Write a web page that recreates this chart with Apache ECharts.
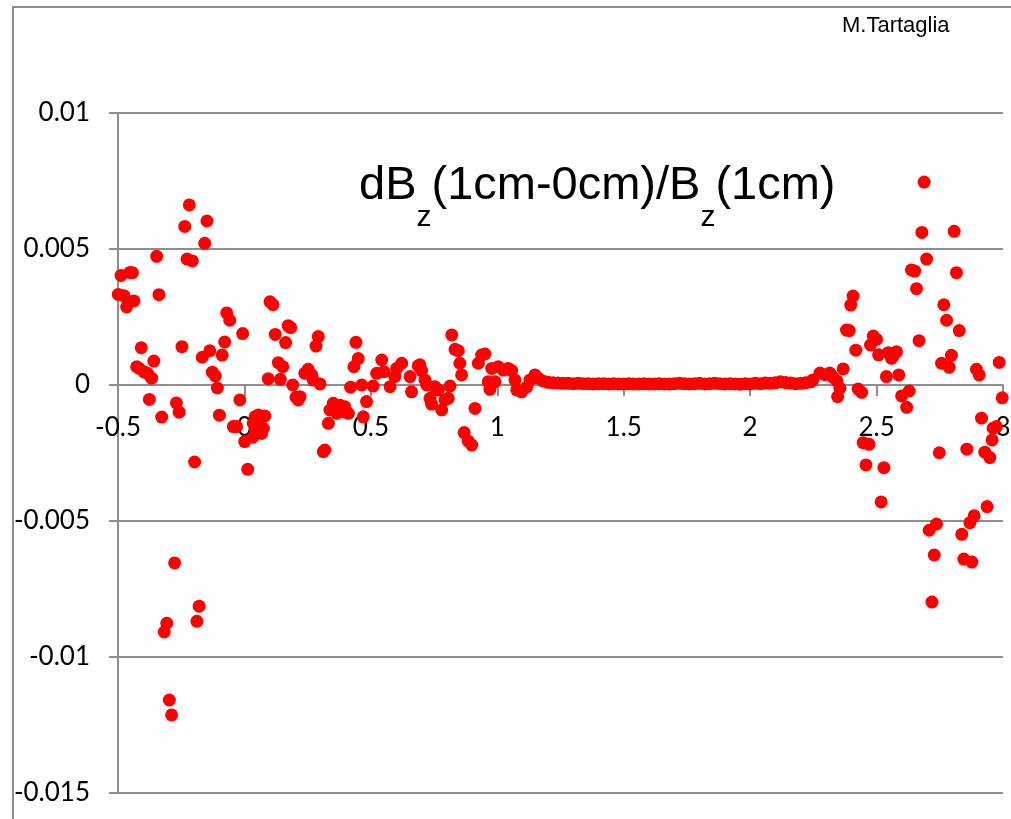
<!DOCTYPE html>
<html>
<head>
<meta charset="utf-8">
<script src="https://cdn.jsdelivr.net/npm/echarts@6/dist/echarts.min.js"></script>
<style>
  html, body { margin: 0; padding: 0; background: #fff; }
  #chart { width: 1011px; height: 819px; }
</style>
</head>
<body>
<div id="chart"></div>
<script>
// measured points, [x, dBz/Bz]
const leftPts = [
    [-0.499, 0.00333], [-0.488, 0.00403], [-0.476, 0.00328], [-0.466, 0.00287], [-0.453, 0.00414],
    [-0.443, 0.00413], [-0.437, 0.00309], [-0.426, 0.00067], [-0.416, 0.00061], [-0.408, 0.00137],
    [-0.397, 0.00048], [-0.383, 0.00043], [-0.376, -0.00053], [-0.367, 0.00025], [-0.358, 0.00088],
    [-0.347, 0.00473], [-0.338, 0.00332], [-0.327, -0.00118], [-0.317, -0.00908], [-0.307, -0.00876],
    [-0.297, -0.01158], [-0.288, -0.01213], [-0.276, -0.00654], [-0.269, -0.00066], [-0.258, -0.001],
    [-0.247, 0.00141], [-0.236, 0.00583], [-0.227, 0.00463], [-0.218, 0.00662], [-0.206, 0.00456],
    [-0.197, -0.00283], [-0.188, -0.00869], [-0.179, -0.00813], [-0.167, 0.00102], [-0.157, 0.00521],
    [-0.148, 0.00603], [-0.137, 0.00126], [-0.127, 0.00047], [-0.115, 0.00033], [-0.107, -0.00011],
    [-0.099, -0.00111], [-0.088, 0.0011], [-0.078, 0.00158], [-0.070, 0.00265], [-0.058, 0.00238],
    [-0.044, -0.00153], [-0.031, -0.00153], [-0.018, -0.00055], [-0.007, 0.00189], [0.001, -0.00208],
    [0.013, -0.0031], [0.033, -0.00192], [0.035, -0.00141], [0.042, -0.00117], [0.042, -0.00165],
    [0.055, -0.0011], [0.061, -0.00153], [0.068, -0.00178], [0.075, -0.00159], [0.081, -0.00114],
    [0.094, 0.00023], [0.101, 0.00306], [0.113, 0.00295], [0.122, 0.00186], [0.134, 0.00082],
    [0.142, 0.00021], [0.152, 0.00067], [0.163, 0.00156], [0.173, 0.00218], [0.183, 0.00211],
    [0.191, 0], [0.204, -0.00045]
];

const midPts = [
    [0.213, -0.00055], [0.220, -0.00043], [0.239, 0.00043], [0.252, 0.00058], [0.266, 0.00037],
    [0.272, 0.00018], [0.283, 0.00143], [0.292, 0.00178], [0.299, 0.00004], [0.312, -0.00245],
    [0.318, -0.00239], [0.332, -0.00141], [0.338, -0.00092], [0.351, -0.00067], [0.365, -0.00104],
    [0.378, -0.00074], [0.391, -0.00098], [0.397, -0.0008], [0.411, -0.00104], [0.420, -0.00008],
    [0.433, 0.00067], [0.441, 0.00157], [0.450, 0.00097], [0.464, 0], [0.470, -0.00117],
    [0.483, -0.00061], [0.509, -0.00004], [0.523, 0.00043], [0.543, 0.00092], [0.552, 0.00049],
    [0.576, -0.00006], [0.595, 0.00031], [0.602, 0.00061], [0.622, 0.0008], [0.655, 0.00031],
    [0.661, -0.00025], [0.687, 0.0007], [0.694, 0.00074], [0.701, 0.00053], [0.714, 0.00018],
    [0.721, 0], [0.734, -0.00049], [0.740, -0.0007], [0.753, -0.00006], [0.767, -0.00018],
    [0.780, -0.00092], [0.793, -0.00055], [0.806, -0.00049], [0.813, -0.00004], [0.820, 0.00184],
    [0.833, 0.00131], [0.846, 0.00126], [0.852, 0.0008], [0.859, 0.00037], [0.869, -0.00175],
    [0.885, -0.00206], [0.899, -0.00221], [0.912, -0.00086], [0.925, 0.0008], [0.938, 0.0011],
    [0.951, 0.00114], [0.964, 0.00012], [0.971, -0.00016], [0.978, 0.00061], [0.991, 0.00012],
    [1.004, 0.00067], [1.024, 0.00055], [1.043, 0.00061], [1.057, 0.00053], [1.070, 0.00018],
    [1.077, -0.00018], [1.096, -0.00025], [1.116, -0.00008], [1.129, 0.00018], [1.149, 0.00037],
    [1.162, 0.00025]
];

// the quiet stretch between ~1.2 and ~2.25
const flatX = [
    1.18, 1.20, 1.22, 1.24, 1.26, 1.28, 1.30, 1.32, 1.34, 1.36, 1.38, 1.40, 1.42, 1.44, 1.46,
    1.48, 1.50, 1.52, 1.54, 1.56, 1.58, 1.60, 1.62, 1.64, 1.66, 1.68, 1.70, 1.72, 1.74, 1.76,
    1.78, 1.80, 1.82, 1.84, 1.86, 1.88, 1.90, 1.92, 1.94, 1.96, 1.98, 2.00, 2.02, 2.04, 2.06,
    2.08, 2.10, 2.12, 2.14, 2.16, 2.18, 2.20, 2.22, 2.24
];
const flatY = [
    0.00015, 0.0001, 0.00008, 0.00007, 0.00006, 0.00006, 0.00005, 0.00006, 0.00005, 0.00005, 0.00004, 0.00005, 0.00005, 0.00004, 0.00005,
    0.00004, 0.00004, 0.00005, 0.00004, 0.00004, 0.00005, 0.00004, 0.00004, 0.00005, 0.00004, 0.00004, 0.00005, 0.00006, 0.00005, 0.00004,
    0.00005, 0.00006, 0.00004, 0.00005, 0.00006, 0.00005, 0.00004, 0.00005, 0.00004, 0.00003, 0.00005, 0.00004, 0.00006, 0.00005, 0.00007,
    0.00006, 0.00008, 0.00012, 0.00009, 0.00007, 0.00005, 0.00006, 0.00008, 0.00012
];

const rightPts = [
    [2.248, 0.00018], [2.276, 0.00044], [2.296, 0.00038], [2.315, 0.00044], [2.327, 0.00029],
    [2.343, 0.00015], [2.346, -0.00043], [2.355, -0.00012], [2.368, 0.00059], [2.381, 0.00202],
    [2.392, 0.002], [2.398, 0.00294], [2.407, 0.00327], [2.418, 0.00128], [2.427, -0.00015],
    [2.441, -0.00027], [2.447, -0.00212], [2.458, -0.00294], [2.470, -0.00218], [2.476, 0.00147],
    [2.487, 0.0018], [2.500, 0.00168], [2.508, 0.00111], [2.518, -0.0043], [2.529, -0.00304],
    [2.539, 0.00031], [2.546, 0.00119], [2.559, 0.00098], [2.566, 0.00107], [2.579, 0.00122],
    [2.588, 0.00037], [2.599, -0.0004], [2.619, -0.00082], [2.629, -0.00022], [2.638, 0.00423],
    [2.651, 0.00419], [2.658, 0.00354], [2.668, 0.00163], [2.679, 0.00561], [2.688, 0.00746],
    [2.698, 0.00463], [2.708, -0.00534], [2.719, -0.00798], [2.728, -0.00625], [2.737, -0.00511],
    [2.748, -0.00249], [2.757, 0.0008], [2.766, 0.00295], [2.777, 0.00238], [2.787, 0.00065],
    [2.796, 0.00109], [2.807, 0.00565], [2.816, 0.00413], [2.827, 0.002], [2.837, -0.00549],
    [2.845, -0.0064], [2.857, -0.00236], [2.869, -0.00506], [2.877, -0.00651], [2.886, -0.00481],
    [2.895, 0.00058], [2.906, 0.00037], [2.915, -0.00122], [2.928, -0.00247], [2.937, -0.00447],
    [2.948, -0.00267], [2.957, -0.00202], [2.961, -0.00159], [2.974, -0.00153], [2.985, 0.00083],
    [2.997, -0.00047]
];

const flatPts = flatX.map((x, i) => [x, flatY[i]]);
const allPts = leftPts.concat(midPts, flatPts, rightPts);

const axisGray = '#8e8e8e';
const labelFont = 'Lato, "Open Sans", sans-serif';
const titleFont = '"Liberation Sans", Arial, sans-serif';

const chart = echarts.init(document.getElementById('chart'));

const option = {
    backgroundColor: '#fff',
    animation: false,
    title: [
        {
            text: '{a|dB}{s|z}{a|(1cm-0cm)/B}{s|z}{a|(1cm)}',
            left: 354,
            top: 158,
            textStyle: {
                fontWeight: 'normal',
                rich: {
                    a: {
                        fontSize: 47,
                        fontWeight: 'normal',
                        fontFamily: titleFont,
                        color: '#000',
                        lineHeight: 56,
                        verticalAlign: 'top'
                    },
                    s: {
                        fontSize: 30,
                        fontWeight: 'normal',
                        fontFamily: titleFont,
                        color: '#000',
                        lineHeight: 30,
                        verticalAlign: 'top',
                        padding: [40, 0, 0, 0]
                    }
                }
            }
        },
        {
            text: 'M.Tartaglia',
            left: 837,
            top: 10,
            textStyle: {
                fontSize: 22,
                fontWeight: 'normal',
                fontFamily: titleFont,
                color: '#000'
            }
        }
    ],
    graphic: [{
        type: 'rect',
        shape: { x: 13, y: 7, width: 1100, height: 900 },
        style: { fill: 'none', stroke: axisGray, lineWidth: 2 },
        silent: true
    }],
    grid: {
        left: 118,
        top: 113,
        width: 885,
        height: 680,
        containLabel: false,
        outerBoundsMode: 'none'
    },
    xAxis: {
        type: 'value',
        position: 'bottom',
        // axis drawn through y = 0, i.e. 408px above the bottom of the grid
        offset: -408,
        min: -0.5,
        max: 3,
        interval: 0.5,
        axisLine: {
            show: true,
            onZero: false,
            lineStyle: { color: axisGray, width: 2 }
        },
        axisTick: {
            show: true,
            length: 11,
            lineStyle: { color: axisGray, width: 2 }
        },
        splitLine: { show: false },
        axisLabel: {
            margin: 30,
            fontSize: 26,
            fontFamily: labelFont,
            color: '#000',
            showMinLabel: true,
            showMaxLabel: true,
            hideOverlap: false
        }
    },
    yAxis: {
        type: 'value',
        min: -0.015,
        max: 0.01,
        interval: 0.005,
        axisLine: {
            show: true,
            onZero: false,
            lineStyle: { color: axisGray, width: 2 }
        },
        axisTick: {
            show: true,
            length: 9,
            lineStyle: { color: axisGray, width: 2 }
        },
        splitLine: {
            show: true,
            lineStyle: { color: axisGray, width: 2 }
        },
        axisLabel: {
            margin: 28,
            fontSize: 26,
            fontFamily: labelFont,
            color: '#000',
            showMinLabel: true,
            showMaxLabel: true
        }
    },
    series: [{
        name: 'dBz/Bz',
        type: 'scatter',
        data: allPts,
        symbol: 'circle',
        symbolSize: 13,
        itemStyle: { color: '#ff0000', opacity: 1 },
        z: 5
    }]
};

chart.setOption(option);
</script>
</body>
</html>
